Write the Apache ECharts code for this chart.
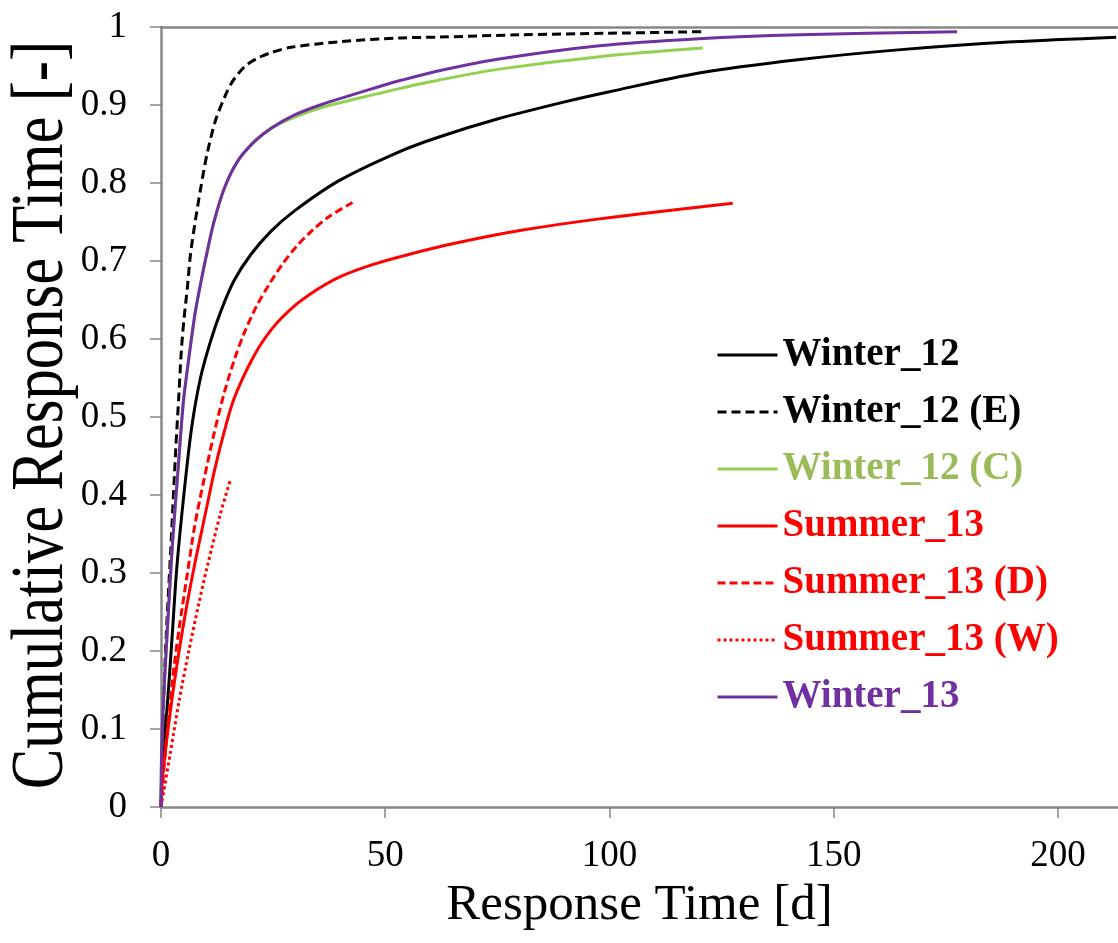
<!DOCTYPE html>
<html>
<head>
<meta charset="utf-8">
<script src="https://cdn.jsdelivr.net/npm/echarts@6/dist/echarts.min.js"></script>
<style>
html,body{margin:0;padding:0;background:#fff;}
#chart{width:1118px;height:943px;}
</style>
</head>
<body>
<div id="chart"></div>
<script>
// ---- data ----
const seriesNames = ['Winter_12', 'Winter_12 (E)', 'Winter_12 (C)', 'Summer_13', 'Summer_13 (D)', 'Summer_13 (W)', 'Winter_13'];
const xTickValues = [0, 50, 100, 150, 200];
const xMax = 213.4;

const winter12 = [[0,0],[0.3,0.056],[1.4,0.13],[2.5,0.22],[3.5,0.305],[5.0,0.395],[6.8,0.485],[8.8,0.55],[11.1,0.598],[13.5,0.638],[16.3,0.675],[20,0.708],[24.5,0.738],[29.7,0.764],[39.7,0.803],[53.1,0.84],[62,0.859],[75,0.882],[90,0.904],[100,0.917],[120,0.941],[142,0.958],[165,0.971],[190,0.981],[213,0.987]];
const winter12E = [[0,0],[0.3,0.077],[1.0,0.2],[2.2,0.333],[3.3,0.46],[4.0,0.53],[4.5,0.582],[5.1,0.624],[5.9,0.667],[6.6,0.71],[7.7,0.753],[8.9,0.795],[10.3,0.838],[12.2,0.881],[14.4,0.913],[15.7,0.928],[17.2,0.94],[19,0.951],[21.5,0.96],[24.5,0.967],[29,0.974],[39.7,0.981],[53,0.986],[62,0.987],[80,0.99],[100,0.992],[120.8,0.994]];
const winter12C = [[0,0],[0.1,0.06],[0.4,0.12],[1.4,0.225],[2.5,0.333],[3.9,0.44],[5.0,0.52],[6.2,0.575],[7.6,0.633],[8.9,0.673],[10.3,0.712],[11.8,0.75],[14.1,0.793],[17.1,0.828],[20.8,0.853],[24.5,0.87],[29.7,0.884],[36,0.897],[47.2,0.913],[53.1,0.921],[62,0.932],[75.4,0.946],[97.8,0.962],[120.8,0.973]];
const summer13 = [[0,0],[0.3,0.035],[1.8,0.11],[3.6,0.184],[5.5,0.25],[7.4,0.308],[9.6,0.368],[11.8,0.428],[13.5,0.468],[16.2,0.522],[20.5,0.576],[24.6,0.612],[29.7,0.642],[35,0.664],[40,0.68],[47,0.695],[55,0.708],[65,0.722],[80,0.739],[97.8,0.754],[127.5,0.774]];
const summer13D = [[0,0],[0.8,0.06],[2.5,0.16],[4.0,0.227],[5.9,0.3],[7.5,0.36],[9.6,0.42],[11.8,0.478],[14.2,0.533],[16.5,0.576],[18.5,0.607],[21.3,0.642],[24.1,0.67],[27.1,0.696],[30.1,0.718],[33.5,0.738],[37.5,0.757],[42.7,0.775]];
const summer13W = [[0,0],[2.1,0.07],[4.1,0.138],[6.2,0.2],[8.4,0.26],[10.3,0.308],[13.3,0.377],[15.5,0.42]];
const winter13 = [[0,0],[0.1,0.06],[0.4,0.12],[1.4,0.225],[2.5,0.333],[3.9,0.44],[5.0,0.52],[6.2,0.575],[7.6,0.633],[8.9,0.673],[10.3,0.712],[11.8,0.75],[14.1,0.793],[17.1,0.828],[20.8,0.853],[24.5,0.87],[29.7,0.887],[36,0.901],[47.2,0.921],[53.1,0.931],[62,0.944],[75.4,0.959],[97.8,0.976],[120,0.985],[142.4,0.99],[177.5,0.994]];

const seriesData = [winter12, winter12E, winter12C, summer13, summer13D, summer13W, winter13];
const lineColors = ['#000000', '#000000', '#92D050', '#FF0000', '#FF0000', '#FF0000', '#7030A0'];
const textColors = ['#000000', '#000000', '#9BBB59', '#FF0000', '#FF0000', '#FF0000', '#7030A0'];
const lineTypes = ['solid', [9, 5], 'solid', 'solid', [8, 4], [3, 3], 'solid'];

const SERIF = '"Liberation Serif", "Times New Roman", serif';
const axisGray = '#878787';

const chart = echarts.init(document.getElementById('chart'), null, {renderer: 'canvas'});

const series = seriesNames.map((name, i) => ({
  name: name,
  type: 'line',
  data: seriesData[i],
  showSymbol: false,
  symbol: 'none',
  smooth: 0.3,
  lineStyle: {color: lineColors[i], width: 3, type: lineTypes[i]},
  itemStyle: {color: lineColors[i]},
  emphasis: {disabled: true},
  silent: true,
  animation: false
}));

chart.setOption({
  animation: false,
  backgroundColor: '#ffffff',
  grid: {left: 161, right: 0, top: 27, bottom: 136, containLabel: false},
  legend: {
    orient: 'vertical',
    left: 716,
    top: 335,
    padding: 0,
    itemWidth: 60,
    itemHeight: 14,
    itemGap: 17,
    itemStyle: {opacity: 0},
    lineStyle: {width: 3},
    data: seriesNames.map((n, i) => ({name: n, textStyle: {color: textColors[i]}})),
    textStyle: {fontFamily: SERIF, fontWeight: 'bold', fontSize: 39, lineHeight: 40}
  },
  xAxis: [{
    type: 'value',
    min: 0,
    max: xMax,
    interval: 50,
    position: 'bottom',
    name: 'Response Time [d]',
    nameLocation: 'middle',
    nameGap: 59,
    nameTextStyle: {fontFamily: SERIF, fontSize: 51, color: '#000'},
    axisLine: {show: true, lineStyle: {color: axisGray, width: 2.5}},
    axisTick: {show: true, length: 11, inside: false, lineStyle: {color: axisGray, width: 1.5}},
    axisLabel: {
      fontFamily: SERIF, fontSize: 37, color: '#000', margin: 31, showMaxLabel: false,
      formatter: v => (xTickValues.indexOf(v) >= 0 ? String(v) : '')
    },
    splitLine: {show: false}
  }, {
    type: 'value',
    min: 0,
    max: xMax,
    position: 'top',
    axisLine: {show: true, lineStyle: {color: axisGray, width: 2.5}},
    axisTick: {show: false},
    axisLabel: {show: false},
    splitLine: {show: false}
  }],
  yAxis: {
    type: 'value',
    min: 0,
    max: 1,
    interval: 0.1,
    axisLine: {show: true, lineStyle: {color: axisGray, width: 2.5}},
    axisTick: {show: true, length: 11, inside: false, lineStyle: {color: axisGray, width: 1.5}},
    axisLabel: {
      fontFamily: SERIF, fontSize: 37, color: '#000', margin: 34,
      formatter: v => String(Math.round(v * 10) / 10)
    },
    splitLine: {show: false}
  },
  graphic: [{
    type: 'text',
    x: 42,
    y: 415,
    rotation: Math.PI / 2,
    scaleX: 0.81,
    scaleY: 1,
    silent: true,
    style: {
      text: 'Cumulative Response Time [-]',
      font: '75px ' + SERIF,
      fill: '#000',
      align: 'center',
      verticalAlign: 'middle'
    }
  }],
  series: series
});
</script>
</body>
</html>
